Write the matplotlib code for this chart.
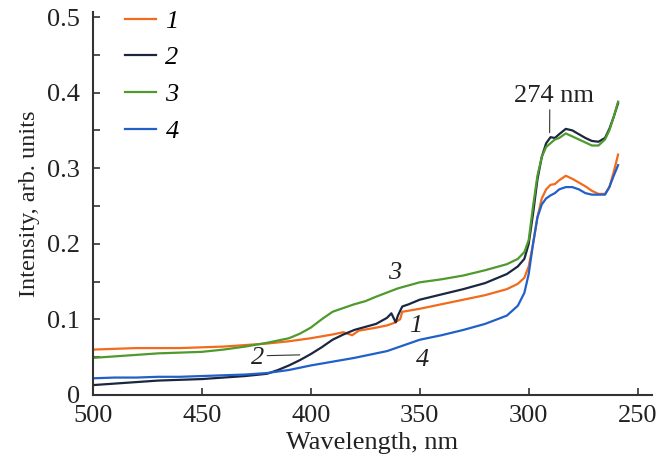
import matplotlib
matplotlib.use("Agg")
import matplotlib.pyplot as plt

plt.rcParams['font.family'] = ['Liberation Serif', 'DejaVu Serif']

# curve 1 (orange)
wl1 = [500, 490, 480, 470, 460, 450, 440, 430, 420, 410, 400, 390, 385, 381, 378,
       370, 365, 362, 359, 358, 350, 340, 330, 320, 310, 305, 302, 300, 298, 296,
       294, 292, 290, 288, 286, 283, 280, 277, 274, 271, 268, 265, 263, 261, 259]
int1 = [0.060, 0.061, 0.062, 0.062, 0.062, 0.063, 0.064, 0.066, 0.068, 0.071, 0.075,
        0.080, 0.083, 0.079, 0.085, 0.089, 0.092, 0.095, 0.100, 0.110, 0.114, 0.120,
        0.126, 0.132, 0.140, 0.147, 0.155, 0.170, 0.200, 0.235, 0.260, 0.272, 0.278,
        0.279, 0.284, 0.290, 0.286, 0.281, 0.276, 0.270, 0.266, 0.266, 0.275, 0.295,
        0.318]

# curve 2 (dark navy)
wl2 = [500, 490, 480, 470, 460, 450, 440, 430, 420, 415, 410, 405, 400, 395, 390,
       385, 380, 375, 370, 365, 363, 361, 360, 358, 355, 350, 340, 330, 320, 310,
       305, 302, 300, 298, 296, 294, 292, 290, 288, 286, 283, 280, 277, 274, 271,
       268, 265, 263, 261, 259]
int2 = [0.013, 0.015, 0.017, 0.019, 0.020, 0.021, 0.023, 0.025, 0.028, 0.033, 0.039,
        0.046, 0.054, 0.063, 0.073, 0.080, 0.086, 0.090, 0.094, 0.102, 0.108, 0.096,
        0.105, 0.117, 0.120, 0.126, 0.133, 0.140, 0.148, 0.160, 0.170, 0.180, 0.200,
        0.240, 0.285, 0.315, 0.333, 0.341, 0.340, 0.345, 0.352, 0.350, 0.345, 0.340,
        0.336, 0.335, 0.340, 0.352, 0.368, 0.386]

# curve 3 (green)
wl3 = [500, 490, 480, 470, 460, 450, 440, 430, 420, 410, 405, 400, 395, 390, 380,
       375, 370, 360, 350, 340, 330, 320, 310, 305, 302, 300, 298, 296, 294, 292,
       290, 288, 286, 283, 280, 277, 274, 271, 268, 265, 263, 261, 259]
int3 = [0.049, 0.051, 0.053, 0.055, 0.056, 0.057, 0.060, 0.064, 0.069, 0.075, 0.081,
        0.089, 0.100, 0.110, 0.120, 0.124, 0.130, 0.141, 0.149, 0.153, 0.158, 0.165,
        0.173, 0.180, 0.189, 0.205, 0.250, 0.290, 0.315, 0.328, 0.333, 0.338, 0.340,
        0.346, 0.342, 0.338, 0.334, 0.330, 0.330, 0.338, 0.350, 0.368, 0.388]

# curve 4 (blue)
wl4 = [500, 490, 480, 470, 460, 450, 440, 430, 420, 410, 400, 390, 380, 370, 365,
       360, 350, 340, 330, 320, 310, 305, 302, 300, 298, 296, 294, 292, 290, 288,
       286, 283, 280, 277, 274, 271, 268, 265, 263, 261, 259]
int4 = [0.022, 0.023, 0.023, 0.024, 0.024, 0.025, 0.026, 0.027, 0.029, 0.033, 0.039,
        0.044, 0.049, 0.055, 0.058, 0.063, 0.073, 0.079, 0.086, 0.094, 0.105, 0.118,
        0.135, 0.160, 0.200, 0.235, 0.252, 0.260, 0.264, 0.267, 0.272, 0.275, 0.275,
        0.272, 0.267, 0.265, 0.265, 0.265, 0.275, 0.290, 0.304]

labels = ['1', '2', '3', '4']
colors = ['#f26a1b', '#1b2740', '#4e9a2c', '#2160c8']

FS = 19

fig = plt.figure(figsize=(6.67, 4.63), dpi=100)
ax = fig.add_axes([0.139, 0.147, 0.838, 0.827])

curves = [(wl1, int1), (wl2, int2), (wl3, int3), (wl4, int4)]
for (w, v), lab, col in zip(curves, labels, colors):
    ax.plot(w, v, color=col, lw=1.6, label=lab)

ax.set_xlim(500, 243.6)
ax.set_ylim(0, 0.5066)
ax.set_xticks([500, 450, 400, 350, 300, 250])
ax.set_yticks([0, 0.1, 0.2, 0.3, 0.4, 0.5])
ax.set_yticklabels(['0', '0.1', '0.2', '0.3', '0.4', '0.5'])
ax.set_yticks([0.05, 0.15, 0.25, 0.35, 0.45], minor=True)
ax.tick_params(which='both', direction='in', length=5, width=1.2, labelsize=FS,
               color='#333333', labelcolor='#222222')
ax.tick_params(axis='x', pad=7.5)
ax.tick_params(axis='y', pad=9)
for s in ['top', 'right']:
    ax.spines[s].set_visible(False)
for s in ['left', 'bottom']:
    ax.spines[s].set_linewidth(1.5)
    ax.spines[s].set_color('#333333')

ax.set_xlabel('Wavelength, nm', fontsize=FS, color='#222222', labelpad=3)
ax.set_ylabel('Intensity, arb. units', fontsize=17.5, color='#222222', labelpad=5)

ax.legend(loc='upper left', bbox_to_anchor=(0.057, 1.007), frameon=False,
          prop={'style': 'italic', 'size': FS}, handlelength=1.2,
          handletextpad=0.35, labelspacing=0.5, borderpad=0, borderaxespad=0)

ax.annotate('274 nm', xy=(290.4, 0.347), xytext=(288.5, 0.3955), fontsize=FS,
            ha='center', va='center', color='#222222',
            arrowprops=dict(arrowstyle='-', color='#333333', lw=0.8,
                            relpos=(0.45, 0.12), shrinkA=0, shrinkB=0))
ax.annotate('2', xy=(405, 0.053), xytext=(424.3, 0.049), fontsize=FS,
            style='italic', ha='center', va='center', color='#222222',
            arrowprops=dict(arrowstyle='-', color='#333333', lw=0.8,
                            relpos=(0.95, 0.6), shrinkA=0, shrinkB=0))
ax.text(361.5, 0.161, '3', fontsize=FS, style='italic', ha='center', va='center', color='#222222')
ax.text(352.0, 0.091, '1', fontsize=FS, style='italic', ha='center', va='center', color='#222222')
ax.text(348.6, 0.046, '4', fontsize=FS, style='italic', ha='center', va='center', color='#222222')

fig.savefig('out.png', dpi=100)
